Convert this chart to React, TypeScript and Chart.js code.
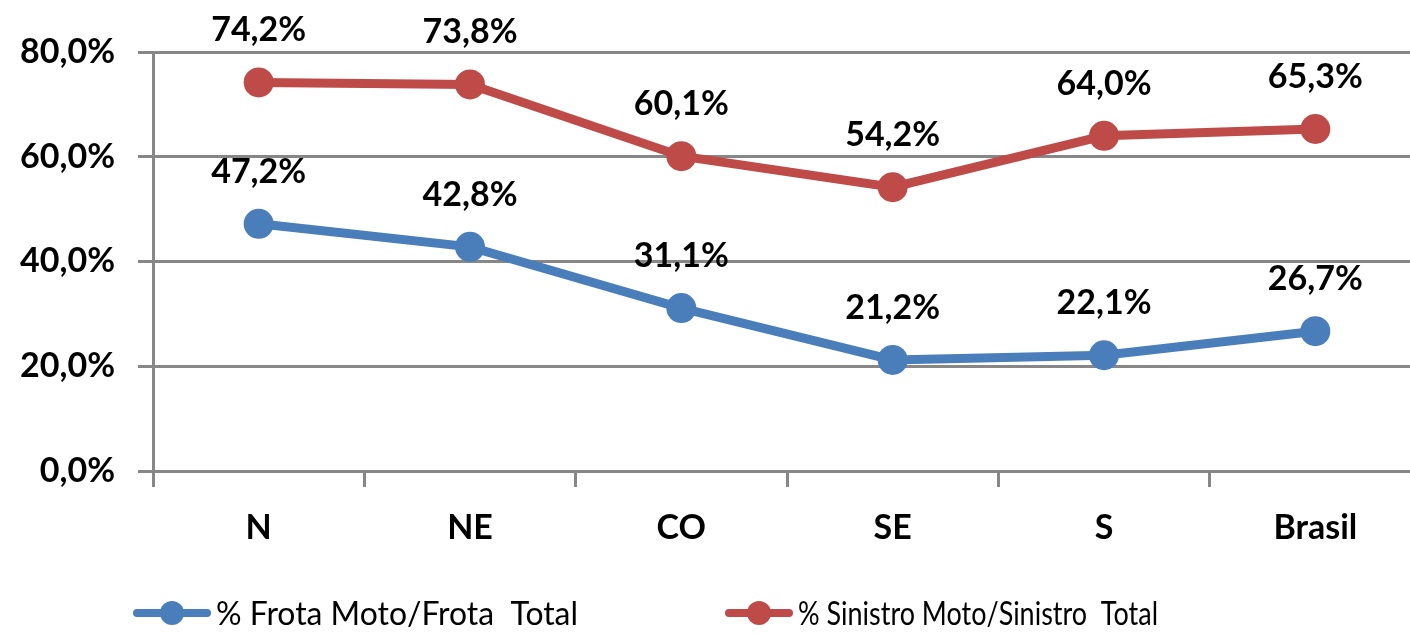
import React, { useEffect, useRef } from "react";
import { Chart, registerables } from "chart.js";

Chart.register(...registerables);

const categories = ["N", "NE", "CO", "SE", "S", "Brasil"];
const frotaValues = [47.2, 42.8, 31.1, 21.2, 22.1, 26.7];
const sinistroValues = [74.2, 73.8, 60.1, 54.2, 64.0, 65.3];
const seriesNames = ["% Frota Moto/Frota  Total", "% Sinistro Moto/Sinistro  Total"];
const seriesColors = ["#4A7EBB", "#BE4B48"];
const yMin = 0;
const yMax = 80;
const yStep = 20;

const FONT = "Lato, 'Open Sans', sans-serif";
const GRID = "#878787";

const fmt = (v: number) => v.toFixed(1).replace(".", ",") + "%";

const dataLabelPlugin = {
  id: "dataLabels",
  afterDatasetsDraw(chart: any) {
    const ctx = chart.ctx;
    ctx.save();
    ctx.font = `bold 34px ${FONT}`;
    ctx.fillStyle = "#000";
    ctx.textAlign = "center";
    ctx.textBaseline = "middle";
    chart.data.datasets.forEach((ds: any, i: number) => {
      const meta = chart.getDatasetMeta(i);
      meta.data.forEach((el: any, j: number) => {
        ctx.fillText(fmt(ds.data[j]), el.x, el.y - 52);
      });
    });
    ctx.restore();
  },
};

const legendPlugin = {
  id: "customLegend",
  afterDraw(chart: any) {
    const ctx = chart.ctx;
    const y = 605;
    const items = [
      { x: 129, len: 70, textW: 362 },
      { x: 721, len: 60, textW: 360 },
    ];
    ctx.save();
    chart.data.datasets.forEach((ds: any, i: number) => {
      const it = items[i];
      ctx.strokeStyle = ds.borderColor;
      ctx.lineWidth = 8;
      ctx.lineCap = "round";
      ctx.beginPath();
      ctx.moveTo(it.x, y);
      ctx.lineTo(it.x + it.len, y);
      ctx.stroke();
      ctx.fillStyle = ds.borderColor;
      ctx.beginPath();
      ctx.arc(it.x + it.len / 2, y, 12, 0, Math.PI * 2);
      ctx.fill();
      ctx.fillStyle = "#000";
      ctx.font = `32px ${FONT}`;
      ctx.textAlign = "left";
      ctx.textBaseline = "middle";
      ctx.fillText(ds.label, it.x + it.len + 9, y + 2, it.textW);
    });
    ctx.restore();
  },
};

export default function App() {
  const ref = useRef<HTMLCanvasElement | null>(null);

  useEffect(() => {
    document.documentElement.style.overflow = "hidden";
    const canvas = ref.current;
    if (!canvas) return;
    const tickFont = { family: FONT, size: 34, weight: "bold" as const };
    const chart = new Chart(canvas, {
      type: "line",
      data: {
        labels: categories,
        datasets: [
          {
            label: seriesNames[0],
            data: frotaValues,
            borderColor: seriesColors[0],
            backgroundColor: seriesColors[0],
            pointBackgroundColor: seriesColors[0],
            pointBorderWidth: 0,
            pointRadius: 15,
            borderWidth: 9,
            tension: 0,
          },
          {
            label: seriesNames[1],
            data: sinistroValues,
            borderColor: seriesColors[1],
            backgroundColor: seriesColors[1],
            pointBackgroundColor: seriesColors[1],
            pointBorderWidth: 0,
            pointRadius: 15,
            borderWidth: 9,
            tension: 0,
          },
        ],
      },
      options: {
        responsive: false,
        animation: false,
        layout: { padding: { top: 44, right: 0, bottom: 0, left: 0 } },
        plugins: {
          legend: { display: false },
          tooltip: { enabled: false },
        },
        scales: {
          x: {
            offset: true,
            grid: {
              offset: true,
              drawOnChartArea: false,
              drawTicks: true,
              tickLength: 16,
              color: GRID,
              lineWidth: 3,
            },
            border: { display: true, color: GRID, width: 3 },
            ticks: { font: tickFont, color: "#000", padding: 21, maxRotation: 0 },
            afterFit: (s: any) => {
              s.height = 163;
            },
          },
          y: {
            min: yMin,
            max: yMax,
            grid: { color: GRID, lineWidth: 3, tickLength: 15, drawTicks: true },
            border: { display: true, color: GRID, width: 3 },
            ticks: {
              stepSize: yStep,
              font: tickFont,
              color: "#000",
              padding: 23,
              callback: (v: any) => fmt(Number(v)),
            },
            afterFit: (s: any) => {
              s.width = 145;
            },
          },
        },
      },
      plugins: [dataLabelPlugin, legendPlugin],
    });
    return () => chart.destroy();
  }, []);

  return (
    <canvas
      ref={ref}
      width={1428}
      height={626}
      style={{ display: "block", position: "fixed", left: 8, top: 8 }}
    />
  );
}
